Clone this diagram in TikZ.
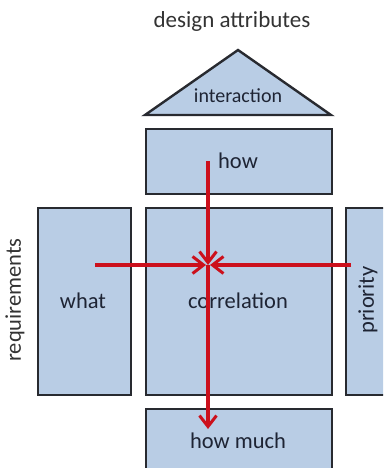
\documentclass[tikz,border=0pt]{standalone}
\usepackage{fontspec}
\setmainfont{Carlito}
\usetikzlibrary{arrows.meta,shapes.geometric}
\definecolor{boxfill}{RGB}{185,205,229}
\definecolor{boxline}{RGB}{40,42,48}
\definecolor{txt}{RGB}{30,36,52}
\definecolor{arrred}{RGB}{204,16,28}
\tikzset{
  blk/.style={draw=boxline, fill=boxfill, line width=2.4pt, text=txt, inner sep=0pt},
  lbl/.style={text=txt, inner sep=0pt, font=\fontsize{22.5}{26}\selectfont},
  rline/.style={draw=arrred, line width=3.2pt},
  rarrow/.style={rline, -{Straight Barb[length=11pt,width=17pt,line width=3pt]}},
}
\begin{document}
\begin{tikzpicture}[x=1pt,y=-1pt]
\useasboundingbox (0,0) rectangle (383,468);
\clip (0,0) rectangle (383,468);
% title
\node[lbl, font=\fontsize{23}{26}\selectfont, text=black!80] (title) at (232,21) {design attributes};
% roof
\draw[blk] (145,115) -- (238,50) -- (331,115) -- cycle;
\node[lbl, font=\fontsize{20}{24}\selectfont] (inter) at (238,96) {interaction};
% boxes
\node[blk, minimum width=186pt, minimum height=65pt, anchor=north west] (how) at (145,128) {};
\node[lbl] (howt) at (238,161) {how};
\node[blk, minimum width=93pt, minimum height=187pt, anchor=north west] (what) at (37,207) {};
\node[lbl] (whatt) at (83,301) {what};
\node[blk, minimum width=186pt, minimum height=187pt, anchor=north west] (corr) at (145,207) {};
\node[lbl] (corrt) at (238,301) {correlation};
\node[blk, minimum width=93pt, minimum height=187pt, anchor=north west] (prio) at (345,207) {};
\node[lbl, rotate=90] (priot) at (368,300) {priority};
\node[blk, minimum width=186pt, minimum height=80pt, anchor=north west] (much) at (145,408) {};
\node[lbl] (mucht) at (238,441) {how much};
\node[lbl, rotate=90, text=black!80] (req) at (15,300) {requirements};
% connector points
\coordinate (vs) at (208,161);
\coordinate (cx) at (208,265);
\coordinate (ve) at (208,429);
\coordinate (hl) at (95,265);
\coordinate (hr) at (351,265);
\draw[rarrow] (vs) -- (cx);
\draw[rarrow] (cx) -- (ve);
\draw[rarrow] (hl) -- ([xshift=-2pt]cx);
\draw[rarrow] (hr) -- ([xshift=2pt]cx);
\end{tikzpicture}
\end{document}
